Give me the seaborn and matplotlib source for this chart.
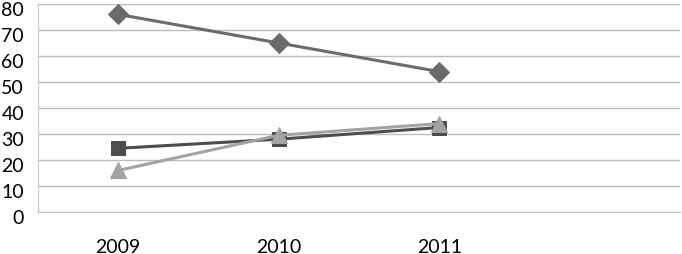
import matplotlib
matplotlib.use("Agg")
import matplotlib.pyplot as plt
import matplotlib.transforms as mtransforms
import pandas as pd
import seaborn as sns

# chart data
years = ["2009", "2010", "2011"]
series1 = [76, 65, 54]     # diamonds
series2 = [24.5, 28, 32.5]  # squares
series3 = [16, 29.5, 34]   # triangles

sns.set_style("white")
plt.rcParams['font.family'] = ['Lato', 'DejaVu Sans']

rows = []
for name, vals in [("Series 1", series1), ("Series 2", series2), ("Series 3", series3)]:
    for i, v in enumerate(vals):
        rows.append({"series": name, "pos": i, "value": v})
df = pd.DataFrame(rows)

fig = plt.figure(figsize=(6.82, 2.55), dpi=100, facecolor="w")
ax = fig.add_axes([38 / 682, 42 / 255, 642 / 682, 208 / 255])

styles = {
    "Series 1": ("#6b6b6b", "D", 10),
    "Series 2": ("#4d4d4d", "s", 9.5),
    "Series 3": ("#a3a3a3", "^", 11),
}
for name, group in df.groupby("series"):
    col, mk, ms = styles[name]
    sns.lineplot(data=group, x="pos", y="value", ax=ax, color=col, marker=mk,
                 markersize=ms, markeredgecolor=col, linewidth=2.2, legend=False)

ax.set_xlim(-0.5, 3.5)
ax.set_ylim(0, 80)
ax.set_yticks(range(0, 81, 10))
ax.set_xticks(range(len(years)))
ax.set_xticklabels(years)
ax.set_xticks([-0.5, 0.5, 1.5, 2.5, 3.5], minor=True)
ax.set_xlabel("")
ax.set_ylabel("")

ax.grid(axis="y", color="#bdbdbd", linewidth=1)
ax.set_axisbelow(True)
for side in ["top", "right"]:
    ax.spines[side].set_visible(False)
ax.spines["left"].set_color("#c8c8c8")
ax.spines["bottom"].set_color("#bdbdbd")

ax.tick_params(axis="x", which="major", length=0, pad=19, labelsize=14, colors="black")
ax.tick_params(axis="x", which="minor", length=4, color="#bdbdbd", direction="out")
ax.tick_params(axis="y", length=0, pad=10, labelsize=14, colors="black")

# nudge y labels down a little so the top one isn't clipped
shift = mtransforms.ScaledTranslation(0, -3 / 72, fig.dpi_scale_trans)
for lbl in ax.get_yticklabels():
    lbl.set_transform(lbl.get_transform() + shift)

plt.savefig("out.png", dpi=100, facecolor="w")
